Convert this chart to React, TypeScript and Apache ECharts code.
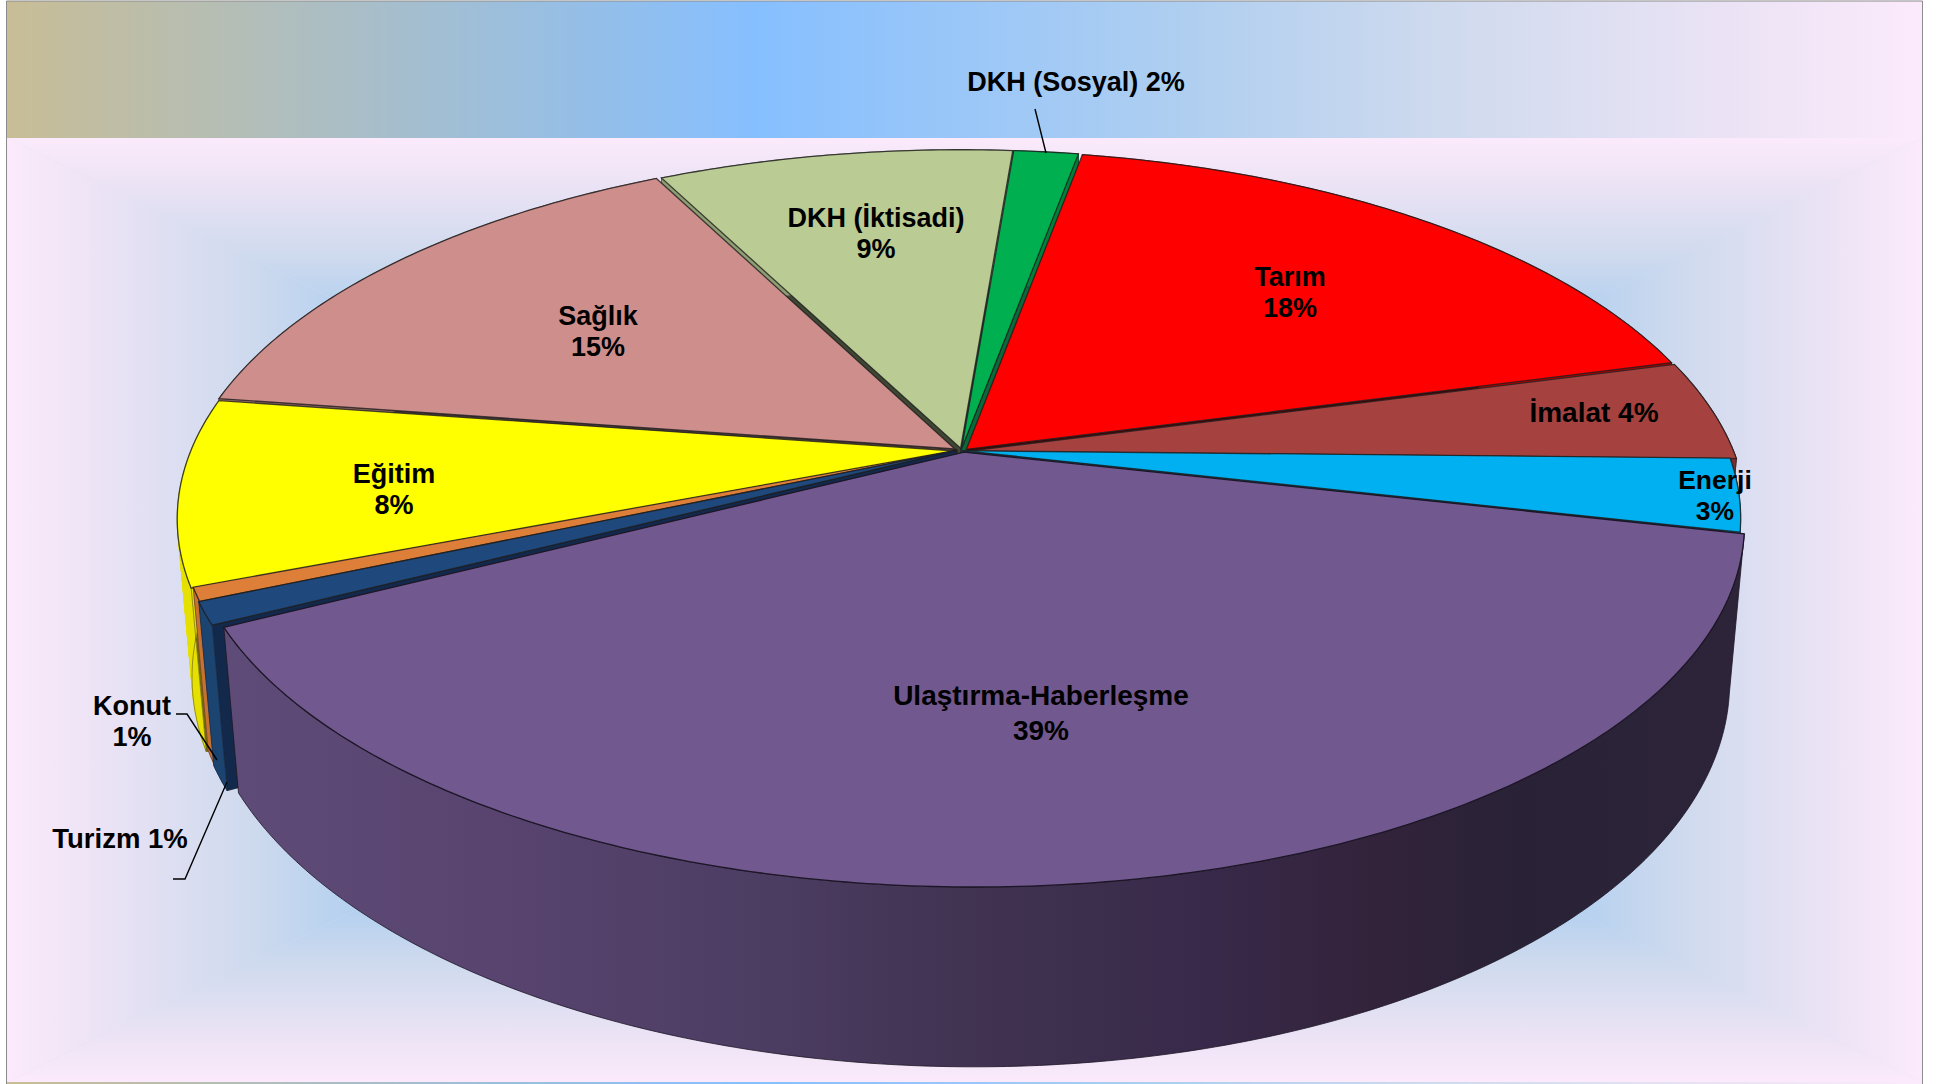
import React, { useEffect, useRef } from "react";
import * as echarts from "echarts";

const CATEGORIES = ["Tarım", "İmalat", "Enerji", "Ulaştırma-Haberleşme", "Turizm", "Konut", "Eğitim", "Sağlık", "DKH (İktisadi)", "DKH (Sosyal)"];
const VALUES = [17.95, 4.45, 3.2, 38.9, 0.99, 0.6, 8.2, 15.1, 8.8, 1.6];
const COLORS = ["#ff0000", "#a5423f", "#00b0f0", "#71588f", "#1f497d", "#dd7f38", "#ffff00", "#ce8f8c", "#bacb94", "#00b050"];
const WALL_COLORS = ["#b80000", "#7a2f2d", "#0084b5", "#5d4a75", "#1c4471", "#c7722f", "#e6e000", "#a06e6c", "#8f9d72", "#00803a"];
const RADIAL_WALL_COLORS = ["#4d0000", "#3a1716", "#0b4a63", "#2a2236", "#13294b", "#6b3a14", "#6e6c00", "#4f3a39", "#3f4733", "#0b6a3a"];

const START_DEG = 10.4;
// Explosion of each slice, in disc units (same order as CATEGORIES)
const OFFSETS = [
  [0.007, -0.002], [0.01, 0.003], [0.002, 0.002], [0.004, 0.006], [-0.006, 0.001],
  [-0.005, 0.0005], [-0.007, 0.003], [-0.008, -0.003], [-0.0005, -0.005], [0.001, -0.005],
];
const SHEARS = [0, 0, 0, 8, 0, 0, 0, 0, 0, 0];
// Perspective of the disc: screen = origin + (A*u + S*v, B*v + C*h) / (1 - K*v + M*h)
const VIEW = { x0: 961, y0: 450, A: 764.5, B: 354, C: 158, K: 0.184, M: 0.0186 };

// Label layout, screen px: centre of the text block, and whether it wraps
const LABEL_LAYOUT: Record<string, any> = {
  "Tarım": { x: 1290, y: 292, wrap: true, size: 27 },
  "İmalat": { x: 1594, y: 412, wrap: false, size: 28 },
  "Enerji": { x: 1715, y: 495, wrap: true, size: 26.5 },
  "Ulaştırma-Haberleşme": { x: 1041, y: 713, wrap: true, size: 28 },
  "Turizm": { x: 120, y: 838, wrap: false, size: 27.5, leader: [[173, 879], [185, 879], [227, 782]] },
  "Konut": { x: 132, y: 721, wrap: true, size: 27, leader: [[176, 714], [187, 714], [217, 760]] },
  "Eğitim": { x: 394, y: 489, wrap: true, size: 27 },
  "Sağlık": { x: 598, y: 331, wrap: true, size: 27 },
  "DKH (İktisadi)": { x: 876, y: 233, wrap: true, size: 27 },
  "DKH (Sosyal)": { x: 1076, y: 82, wrap: false, size: 27, leader: [[1035, 109], [1046, 153]] },
};

const project = (u: number, v: number, h: number, s: number) => {
  const w = 1 - VIEW.K * v + VIEW.M * h;
  return [VIEW.x0 + (VIEW.A * u + s * v) / w, VIEW.y0 + (VIEW.B * v + VIEW.C * h) / w];
};

const total = VALUES.reduce((a, b) => a + b, 0);
const spans: { a0: number; a1: number }[] = [];
{
  let a = START_DEG;
  VALUES.forEach((val) => {
    const a1 = a + (val / total) * 360;
    spans.push({ a0: a, a1 });
    a = a1;
  });
}
const rad = (d: number) => (d * Math.PI) / 180;
const depthKey = (i: number) => {
  const { a0, a1 } = spans[i];
  if (a0 <= 180 && a1 >= 180) return 2;
  if (a0 <= 360 && a1 >= 360) return -2;
  return -Math.cos(rad((a0 + a1) / 2));
};
const paintOrder = VALUES.map((_, i) => i).sort((p, q) => depthKey(p) - depthKey(q));

const arcPoints = (i: number, h: number) => {
  const { a0, a1 } = spans[i];
  const [ox, oy] = OFFSETS[i];
  const n = Math.max(2, Math.ceil((a1 - a0) * 1.5));
  const pts: number[][] = [];
  for (let k = 0; k <= n; k++) {
    const t = rad(a0 + ((a1 - a0) * k) / n);
    pts.push(project(Math.sin(t) + ox, -Math.cos(t) + oy, h, SHEARS[i]));
  }
  return { pts, apex: project(ox, oy, h, SHEARS[i]) };
};

const renderSlice = (_p: any, api: any) => {
  const i = api.value(1);
  const { a0, a1 } = spans[i];
  const top = arcPoints(i, 0);
  const bottom = arcPoints(i, 1);
  const edge = i === 3 ? "#1d1626" : "rgba(30,30,30,0.8)";
  const outer = [...top.pts, ...bottom.pts.slice().reverse()];
  const wallFill =
    i === 3
      ? new echarts.graphic.LinearGradient(0, 0, 1, 0, [
          { offset: 0, color: "#5f4b77" },
          { offset: 0.2, color: "#57436e" },
          { offset: 0.35, color: "#4c3d63" },
          { offset: 0.5, color: "#403250" },
          { offset: 0.65, color: "#38294a" },
          { offset: 0.75, color: "#33233b" },
          { offset: 0.85, color: "#292236" },
          { offset: 1, color: "#2d2439" },
        ])
      : WALL_COLORS[i];
  const walls: any[] = [];
  const wallStyle = { fill: RADIAL_WALL_COLORS[i], stroke: "#15151c", lineWidth: 0.6 };
  if (Math.sin(rad(a0)) < 0) {
    walls.push({ type: "polygon", shape: { points: [top.apex, top.pts[0], bottom.pts[0], bottom.apex] }, style: wallStyle });
  }
  if (Math.sin(rad(a1)) > 0) {
    const last = top.pts.length - 1;
    walls.push({ type: "polygon", shape: { points: [top.apex, top.pts[last], bottom.pts[last], bottom.apex] }, style: wallStyle });
  }
  // Strips make the side of a slice reach the tangent line between the two rims
  const strips: any[] = [];
  if (i !== 3) {
    for (let k = 0; k + 1 < top.pts.length; k++) {
      strips.push({
        type: "polygon",
        shape: { points: [top.pts[k], top.pts[k + 1], bottom.pts[k + 1], bottom.pts[k]] },
        style: { fill: WALL_COLORS[i], stroke: WALL_COLORS[i], lineWidth: 0.6 },
      });
    }
  }
  return {
    type: "group",
    children: [
      ...walls,
      ...strips,
      { type: "polygon", shape: { points: outer }, style: { fill: wallFill, stroke: i === 3 ? "#1d1626" : "rgba(29,22,38,0.5)", lineWidth: 0.8 } },
      { type: "polygon", shape: { points: [top.apex, ...top.pts] }, style: { fill: COLORS[i], stroke: edge, lineWidth: 1.3 } },
    ],
  };
};

const renderLabel = (_p: any, api: any) => {
  const i = api.value(1);
  const name = CATEGORIES[i];
  const pct = Math.round((VALUES[i] / total) * 100);
  const lay = LABEL_LAYOUT[name];
  const children: any[] = [
    {
      type: "text",
      style: {
        x: lay.x,
        y: lay.y,
        text: lay.wrap ? `${name}\n${pct}%` : `${name} ${pct}%`,
        fill: "#000000",
        font: `bold ${lay.size}px "Liberation Sans", Arial, sans-serif`,
        align: "center",
        verticalAlign: "middle",
        lineHeight: name.startsWith("Ula") ? 35 : 31,
      },
    },
  ];
  if (lay.leader) {
    children.push({ type: "polyline", shape: { points: lay.leader }, style: { fill: "none", stroke: "#000000", lineWidth: 1.4 } });
  }
  return { type: "group", children };
};

const BAND = [
  { offset: 0, color: "#c8bd96" },
  { offset: 0.39, color: "#86bfff" },
  { offset: 0.62, color: "#b0cff0" },
  { offset: 0.75, color: "#cfdaee" },
  { offset: 0.9, color: "#ebe3f5" },
  { offset: 1, color: "#fbeafb" },
];
const GLOW = [
  { offset: 0, color: "#fbeafb" },
  { offset: 0.1, color: "#ebe3f5" },
  { offset: 0.25, color: "#cfdaee" },
  { offset: 0.38, color: "#b0cff0" },
  { offset: 0.61, color: "#86bfff" },
  { offset: 1, color: "#c8bd96" },
];

const L = 7, R = 1922, T = 138, Bt = 1082;
const CX = (L + R) / 2, CY = (T + Bt) / 2;

export default function App() {
  const ref = useRef<HTMLDivElement>(null);
  useEffect(() => {
    document.body.style.margin = "0";
    const chart = echarts.init(ref.current!, undefined, { renderer: "svg" });
    const grad = (x: number, y: number, x2: number, y2: number, stops: any) => new echarts.graphic.LinearGradient(x, y, x2, y2, stops);
    const seriesData = paintOrder.map((i) => ({ name: CATEGORIES[i], value: [VALUES[i], i] }));
    chart.setOption({
      animation: false,
      backgroundColor: "#ffffff",
      graphic: {
        elements: [
          { type: "rect", z: 0, shape: { x: L, y: T, width: R - L, height: Bt - T }, style: { fill: "#dbe0f2" } },
          { type: "polygon", z: 0, shape: { points: [[L, T], [R, T], [CX, CY]] }, style: { fill: grad(0, 0, 0, 1, GLOW) } },
          { type: "polygon", z: 0, shape: { points: [[L, Bt], [R, Bt], [CX, CY]] }, style: { fill: grad(0, 1, 0, 0, GLOW) } },
          { type: "polygon", z: 0, shape: { points: [[L, T], [L, Bt], [CX, CY]] }, style: { fill: grad(0, 0, 1, 0, GLOW) } },
          { type: "polygon", z: 0, shape: { points: [[R, T], [R, Bt], [CX, CY]] }, style: { fill: grad(1, 0, 0, 0, GLOW) } },
          { type: "rect", z: 1, shape: { x: L, y: 1, width: R - L, height: T - 1 }, style: { fill: grad(0, 0, 1, 0, BAND) } },
          { type: "rect", z: 1, shape: { x: L, y: Bt, width: R - L, height: 2 }, style: { fill: grad(0, 0, 1, 0, BAND) } },
          { type: "polyline", z: 1, shape: { points: [[L - 0.5, Bt + 2], [L - 0.5, 1], [R + 0.5, 1], [R + 0.5, Bt + 2]] }, style: { fill: "none", stroke: "#8c8c8c", lineWidth: 1 } },
        ],
      },
      series: [
        { type: "custom", z: 10, coordinateSystem: "none", silent: true, data: seriesData, renderItem: renderSlice, clip: false },
        { type: "custom", z: 11, coordinateSystem: "none", silent: true, data: seriesData, renderItem: renderLabel, clip: false },
      ],
    });
    return () => chart.dispose();
  }, []);
  return <div ref={ref} style={{ position: "absolute", left: 0, top: 0, width: 1937, height: 1084 }} />;
}
